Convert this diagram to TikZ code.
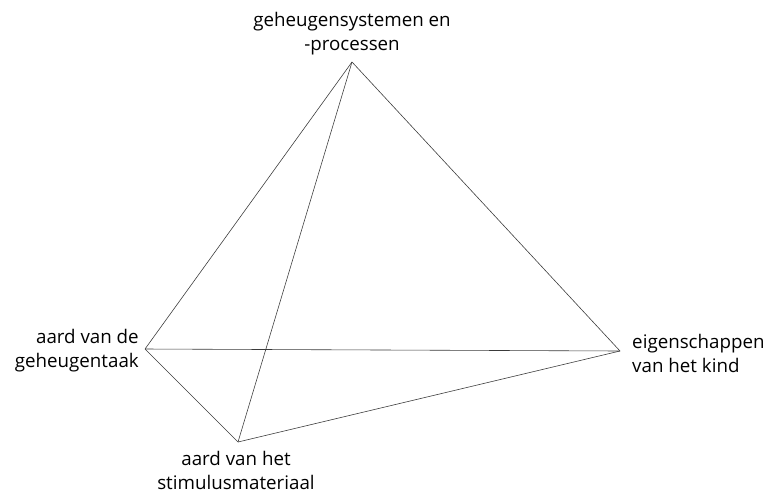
\documentclass[tikz,border=0pt]{standalone}
\usepackage{fontspec}
\setmainfont{Open Sans}
\usetikzlibrary{positioning}
\definecolor{edgegray}{HTML}{3A3A3A}
\tikzset{
  cornerlabel/.style={font=\fontsize{16}{20.5}\selectfont, inner sep=0pt},
  edge/.style={line width=0.5pt, edgegray},
}

\begin{document}
\begin{tikzpicture}[x=0.03cm, y=-0.03cm]
\useasboundingbox (0,0) rectangle (767,500);

% ---- corners of the tetrahedron ----
\coordinate (apex)   at (352,62);
\coordinate (task)   at (145,349);
\coordinate (child)  at (620,351);
\coordinate (stim)   at (238,442);

% ---- labels ----
\node[cornerlabel, align=center, above=0.2cm of apex] (lapex) {geheugensystemen en\\-processen};
\node[cornerlabel, align=right, left=0.18cm of task, yshift=-0.06cm] (ltask) {aard van de\\geheugentaak};
\node[cornerlabel, align=left, right=0.36cm of child, yshift=-0.06cm] (lchild) {eigenschappen\\van het kind};
\node[cornerlabel, align=center, below=0.28cm of stim, xshift=-0.06cm] (lstim) {aard van het\\stimulusmateriaal};

% ---- edges ----
\draw[edge] (apex) -- (task);
\draw[edge] (apex) -- (child);
\draw[edge] (apex) -- (stim);
\draw[edge] (task) -- (child);
\draw[edge] (task) -- (stim);
\draw[edge] (stim) -- (child);

\end{tikzpicture}
\end{document}
